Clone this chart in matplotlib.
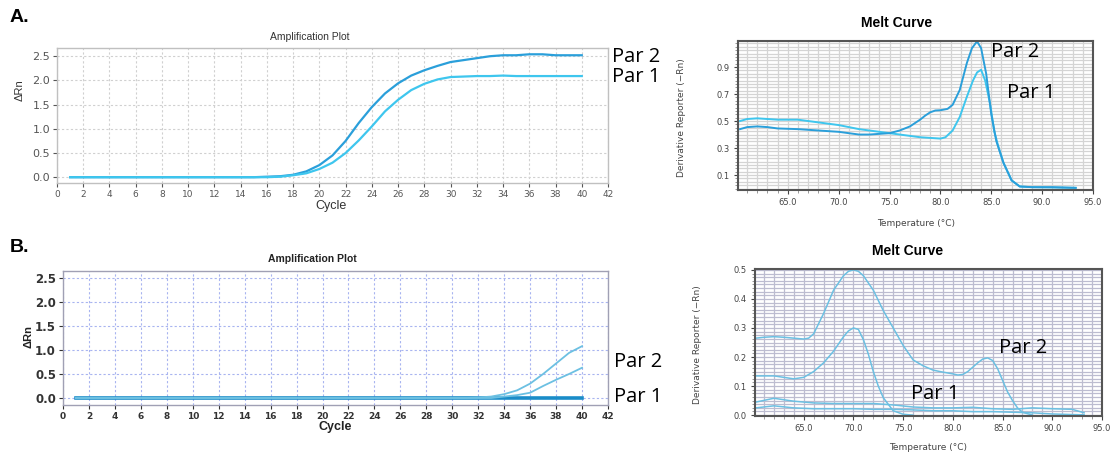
import numpy as np
import matplotlib.pyplot as plt
from matplotlib.ticker import MultipleLocator, FixedLocator

# ---- data ----
cycles = list(range(1, 41))

amp_a_par2 = [0, 0, 0, 0, 0, 0, 0, 0, 0, 0, 0, 0, 0, 0, 0, 0.01, 0.02, 0.05, 0.12, 0.25,
              0.45, 0.75, 1.12, 1.45, 1.73, 1.94, 2.1, 2.21, 2.3, 2.38, 2.42, 2.46, 2.5, 2.52, 2.52,
              2.54, 2.54, 2.52, 2.52, 2.52]
amp_a_par1 = [0, 0, 0, 0, 0, 0, 0, 0, 0, 0, 0, 0, 0, 0, 0, 0, 0.01, 0.04, 0.08, 0.17,
              0.3, 0.5, 0.76, 1.05, 1.36, 1.6, 1.8, 1.93, 2.02, 2.07, 2.08, 2.09, 2.09, 2.1, 2.09,
              2.09, 2.09, 2.09, 2.09, 2.09]

amp_b_par2 = [0] * 31 + [0.01, 0.03, 0.08, 0.16, 0.3, 0.5, 0.72, 0.94, 1.08]
amp_b_mid = [0] * 33 + [0.03, 0.06, 0.11, 0.25, 0.38, 0.5, 0.63]
amp_b_par1 = [0] * 40

melt_a_t2 = [60.3, 61, 62, 63, 64, 66, 68, 70, 72, 73, 74, 75, 76, 77, 78, 78.5, 79, 79.5, 80,
             80.7, 81.2, 81.9, 82.6, 83.1, 83.6, 84.0, 84.5, 85.0, 85.5, 86.2, 87.0, 87.8,
             89, 91, 93.3]
melt_a_par2 = [0.44, 0.455, 0.46, 0.455, 0.445, 0.44, 0.43, 0.42, 0.40, 0.40, 0.405, 0.41, 0.43,
               0.46, 0.51, 0.54, 0.565, 0.578, 0.58, 0.59, 0.62, 0.73, 0.93, 1.04, 1.09, 1.04,
               0.85, 0.55, 0.35, 0.19, 0.06, 0.015, 0.01, 0.01, 0.005]
melt_a_t1 = [60.3, 61, 62, 63, 64, 66, 68, 70, 72, 74, 76, 78, 79, 80, 80.5, 81.2, 81.9, 82.6,
             83.2, 83.6, 84.0, 84.4, 84.9, 85.3, 85.7, 86.2, 87.0, 87.8, 89, 91, 93.3]
melt_a_par1 = [0.50, 0.515, 0.52, 0.515, 0.51, 0.51, 0.49, 0.47, 0.44, 0.42, 0.40, 0.38, 0.375,
               0.37, 0.38, 0.43, 0.53, 0.68, 0.80, 0.86, 0.88, 0.80, 0.62, 0.42, 0.31, 0.19,
               0.06, 0.015, 0.01, 0.008, 0.005]

melt_b_t1 = [60.2, 61, 62, 63, 64, 65, 65.5, 66, 67, 68, 69, 69.5, 70, 70.5, 71, 72, 73, 74,
             75, 76, 77, 78, 79, 80, 80.5, 81, 81.5, 82, 82.5, 83, 83.5, 84, 84.5, 85, 85.5, 86,
             86.5, 87, 88]
melt_b_c1 = [0.265, 0.268, 0.27, 0.268, 0.265, 0.262, 0.265, 0.28, 0.35, 0.43, 0.48, 0.495,
             0.50, 0.495, 0.48, 0.43, 0.36, 0.30, 0.24, 0.19, 0.17, 0.155, 0.148, 0.142, 0.138,
             0.14, 0.15, 0.165, 0.18, 0.193, 0.197, 0.188, 0.16, 0.12, 0.08, 0.05, 0.025, 0.01,
             0.0]
melt_b_t2 = [60.2, 62, 63, 64, 65, 66, 67, 68, 69, 69.5, 70, 70.5, 71, 71.5, 72, 72.5, 73, 74,
             75, 76]
melt_b_c2 = [0.135, 0.135, 0.13, 0.125, 0.13, 0.15, 0.18, 0.22, 0.27, 0.29, 0.30, 0.295, 0.26,
             0.21, 0.15, 0.10, 0.06, 0.015, 0.003, 0.0]
melt_b_low_temp = [60.2, 62, 64, 66, 68, 70, 72, 74, 76, 78, 80, 82, 84, 86, 88, 90, 92, 93.2]
melt_b_c3 = [0.045, 0.058, 0.048, 0.042, 0.04, 0.04, 0.04, 0.035, 0.028, 0.025, 0.025, 0.027,
             0.022, 0.02, 0.025, 0.022, 0.02, 0.008]
melt_b_c4 = [0.025, 0.032, 0.025, 0.022, 0.022, 0.022, 0.02, 0.02, 0.018, 0.015, 0.015, 0.012,
             0.012, 0.01, 0.008, 0.004, 0.002, 0.001]

W, H = 1110, 453
fig = plt.figure(figsize=(W / 100, H / 100), dpi=100)


def box(l, t, r, b):
    return [l / W, 1 - b / H, (r - l) / W, (b - t) / H]


def ftext(x, y, s, **kw):
    fig.text(x / W, 1 - y / H, s, **kw)


def amp_axes(rect, grid_color, spine_color, ylim):
    ax = fig.add_axes(rect)
    ax.set_xlim(0, 42)
    ax.set_ylim(*ylim)
    ax.set_xticks(range(0, 43, 2))
    ax.set_yticks([0, 0.5, 1.0, 1.5, 2.0, 2.5])
    ax.set_yticklabels(['0.0', '0.5', '1.0', '1.5', '2.0', '2.5'])
    ax.grid(True, color=grid_color, linestyle=(0, (2, 2)), linewidth=0.8)
    for s in ax.spines.values():
        s.set_color(spine_color)
        s.set_linewidth(1.0)
    ax.tick_params(axis='x', labelsize=6.5, colors='#555555', length=3, pad=2)
    ax.tick_params(axis='y', labelsize=8, colors='#555555', length=3, pad=2)
    return ax


# ---- A: amplification ----
ax1 = amp_axes(box(57, 48, 608, 183), '#d0d0d0', '#c0c0c0', (-0.12, 2.67))
ax1.plot(cycles, amp_a_par2, color='#2a9fda', lw=1.6)
ax1.plot(cycles, amp_a_par1, color='#3ec6ee', lw=1.6)

# ---- B: amplification ----
ax3 = amp_axes(box(63, 271, 608, 405), '#a8b4f0', '#a0a0b4', (-0.146, 2.646))
ax3.plot(cycles, amp_b_par1, color='#1a8cc8', lw=2.6)
ax3.plot(cycles, amp_b_par2, color='#6cc0e2', lw=1.3)
ax3.plot(cycles, amp_b_mid, color='#6cc0e2', lw=1.3)
ax3.tick_params(axis='x', labelsize=6.5, colors='#333333')
ax3.tick_params(axis='y', labelsize=8.5, colors='#333333')
for lab in ax3.get_xticklabels() + ax3.get_yticklabels():
    lab.set_fontweight('bold')


def melt_axes(rect, ylim, ymajor, yminor, grid_color):
    ax = fig.add_axes(rect)
    ax.set_xlim(60.1, 95)
    ax.set_ylim(*ylim)
    ax.xaxis.set_major_locator(FixedLocator([65, 70, 75, 80, 85, 90, 95]))
    ax.set_xticklabels(['65.0', '70.0', '75.0', '80.0', '85.0', '90.0', '95.0'])
    ax.xaxis.set_minor_locator(MultipleLocator(1))
    ax.yaxis.set_major_locator(FixedLocator(ymajor))
    ax.yaxis.set_minor_locator(MultipleLocator(yminor))
    ax.grid(True, which='both', color=grid_color, linewidth=0.9)
    ax.set_axisbelow(True)
    for s in ax.spines.values():
        s.set_color('#555555')
        s.set_linewidth(1.5)
    ax.tick_params(axis='both', which='major', labelsize=6, colors='#444444', length=3, pad=3)
    ax.tick_params(axis='both', which='minor', colors='#888888', length=2)
    return ax


# ---- A: melt curve ----
ax2 = melt_axes(box(738, 41, 1093, 190), (-0.011, 1.093), [0.1, 0.3, 0.5, 0.7, 0.9], 0.025,
                '#d4d4d4')
ax2.set_yticklabels(['0.1', '0.3', '0.5', '0.7', '0.9'])
ax2.plot(melt_a_t1, melt_a_par1, color='#3ec6ee', lw=1.4)
ax2.plot(melt_a_t2, melt_a_par2, color='#2a9fda', lw=1.4)

# ---- B: melt curve ----
ax4 = melt_axes(box(755, 269, 1102, 416), (-0.003, 0.503), [0.0, 0.1, 0.2, 0.3, 0.4, 0.5],
                0.0125, '#bcbcd0')
ax4.set_yticklabels(['0.0', '0.1', '0.2', '0.3', '0.4', '0.5'])
for xs, ys in [(melt_b_t1, melt_b_c1), (melt_b_t2, melt_b_c2),
               (melt_b_low_temp, melt_b_c3), (melt_b_low_temp, melt_b_c4)]:
    ax4.plot(xs, ys, color='#6cc0e2', lw=1.1)

# ---- text ----
ftext(10, 18, 'A.', fontsize=14, fontweight='bold', va='center', family='Liberation Sans')
ftext(10, 247, 'B.', fontsize=14, fontweight='bold', va='center', family='Liberation Sans')

ftext(310, 37, 'Amplification Plot', fontsize=7.5, ha='center', va='center',
      color='#333333', family='Liberation Sans')
ftext(312, 259, 'Amplification Plot', fontsize=7.5, ha='center', va='center',
      color='#222222', fontweight='bold', family='Liberation Sans')
ftext(897, 23, 'Melt Curve', fontsize=10, ha='center', va='center', fontweight='bold',
      family='Liberation Sans')
ftext(908, 251, 'Melt Curve', fontsize=10, ha='center', va='center', fontweight='bold',
      family='Liberation Sans')

ftext(331, 206, 'Cycle', fontsize=9, ha='center', va='center', color='#333333',
      family='Liberation Sans')
ftext(335, 427, 'Cycle', fontsize=9, ha='center', va='center', color='#222222',
      fontweight='bold', family='Liberation Sans')
ftext(20, 90, '\u0394Rn', fontsize=8, ha='center', va='center', rotation=90, color='#333333',
      family='Liberation Sans')
ftext(29, 337, '\u0394Rn', fontsize=8, ha='center', va='center', rotation=90, color='#222222',
      fontweight='bold', family='Liberation Sans')
ftext(681, 118, 'Derivative Reporter (\u2212Rn)', fontsize=6.5, ha='center', va='center',
      rotation=90, color='#444444')
ftext(698, 345, 'Derivative Reporter (\u2212Rn)', fontsize=6.5, ha='center', va='center',
      rotation=90, color='#444444')
ftext(916, 223, 'Temperature (\u00b0C)', fontsize=6.5, ha='center', va='center', color='#444444')
ftext(928, 448, 'Temperature (\u00b0C)', fontsize=6.5, ha='center', va='center', color='#444444')

par_font = dict(fontsize=14.5, va='center', ha='left', family='Open Sans')
ftext(612, 57, 'Par 2', **par_font)
ftext(612, 77, 'Par 1', **par_font)
ftext(991, 52, 'Par 2', **par_font)
ftext(1007, 93, 'Par 1', **par_font)
ftext(614, 362, 'Par 2', **par_font)
ftext(614, 397, 'Par 1', **par_font)
ftext(999, 348, 'Par 2', **par_font)
ftext(911, 394, 'Par 1', **par_font)

fig.savefig('out.png', dpi=100)
